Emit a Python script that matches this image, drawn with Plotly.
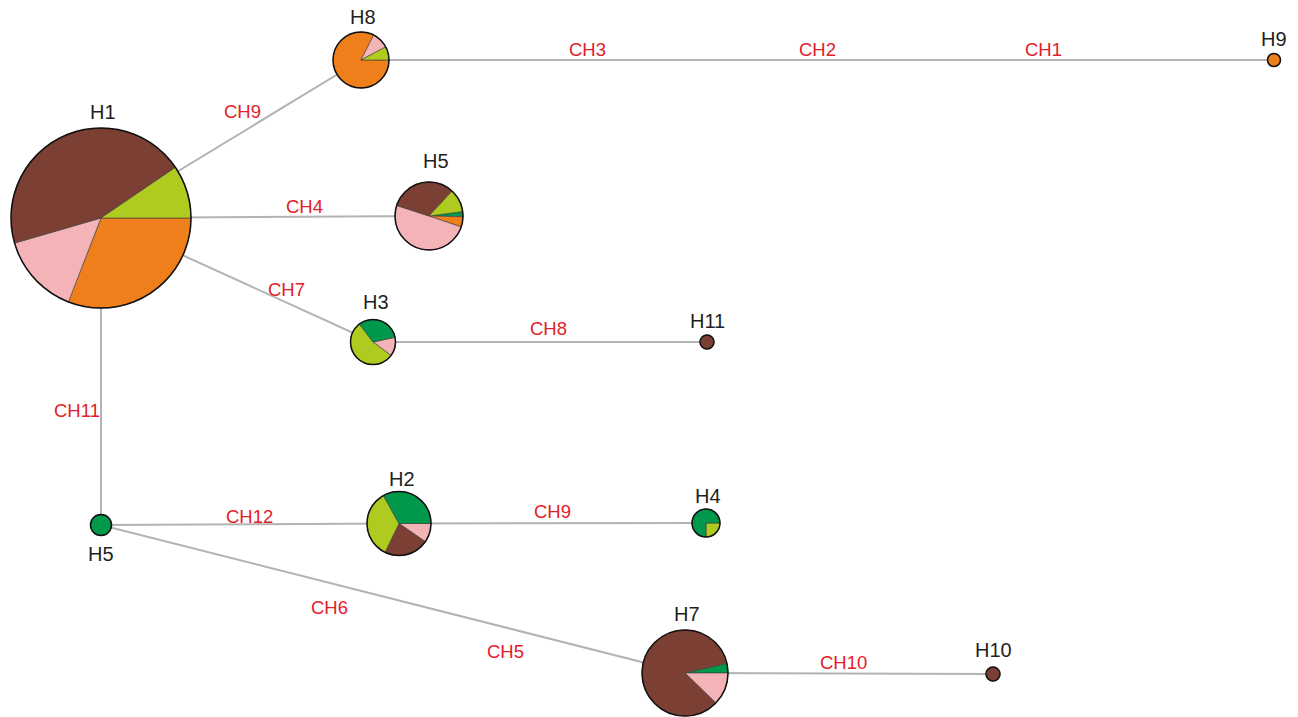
import plotly.graph_objects as go

W, H = 1298, 717

# ---------------- data ----------------
pop_colors = {
    "brown": "#7b3f34",
    "lime": "#b0cb1f",
    "orange": "#ef7f1a",
    "pink": "#f4b3b6",
    "green": "#00984a",
}

hap_labels = ["H1", "H8", "H9", "H5", "H3", "H11", "H5", "H2", "H4", "H7", "H10"]

# composition of each haplotype (% of individuals), slices listed clockwise
H1_pops = ["orange", "pink", "brown", "lime"]
H1_vals = [30.9, 14.6, 45.0, 9.5]
H8_pops = ["orange", "pink", "lime"]
H8_vals = [82.5, 9.7, 7.8]
H9_pops = ["orange"]
H9_vals = [100]
H5a_pops = ["green", "orange", "pink", "brown", "lime"]
H5a_vals = [2.4, 4.9, 49.8, 31.9, 11.0]
H3_pops = ["pink", "lime", "green"]
H3_vals = [13.6, 54.4, 32.0]
H11_pops = ["brown"]
H11_vals = [100]
H5b_pops = ["green"]
H5b_vals = [100]
H2_pops = ["pink", "brown", "lime", "green"]
H2_vals = [9.6, 22.6, 34.7, 33.1]
H4_pops = ["lime", "green"]
H4_vals = [25, 75]
H7_pops = ["green", "pink", "brown"]
H7_vals = [3.6, 12.3, 84.1]
H10_pops = ["brown"]
H10_vals = [100]

hap_pops = [H1_pops, H8_pops, H9_pops, H5a_pops, H3_pops, H11_pops,
            H5b_pops, H2_pops, H4_pops, H7_pops, H10_pops]
hap_vals = [H1_vals, H8_vals, H9_vals, H5a_vals, H3_vals, H11_vals,
            H5b_vals, H2_vals, H4_vals, H7_vals, H10_vals]

# network edges (node index pairs) and mutation labels
edge_from = [0, 1, 0, 0, 4, 0, 6, 7, 6, 9]
edge_to = [1, 2, 3, 4, 5, 6, 7, 8, 9, 10]

mut_labels = ["CH9", "CH3", "CH2", "CH1", "CH4", "CH7", "CH8", "CH11",
              "CH12", "CH9", "CH6", "CH5", "CH10"]

# ---------------- layout (pixel positions) ----------------
node_x = [101, 361, 1274, 429, 373, 707, 101, 399, 706, 685, 993]
node_y = [218, 60, 60, 216, 342, 342, 525, 523.5, 523, 673, 674]
node_r = [90, 28, 6.5, 34, 22.5, 7, 10.5, 32, 14, 43, 7]
node_rot = [90, 90, 90, 82.5, 78, 90, 90, 90, 90, 77, 90]
label_pos = [(103, 112), (363, 17), (1274, 39), (436, 161), (376, 302),
             (707, 321), (101, 554), (402, 479), (708, 496), (687, 614),
             (993, 650)]
mut_pos = [(242, 111), (587, 49), (817, 49), (1043, 49), (304, 206),
           (286, 289), (548, 328), (77, 410), (249, 516), (552, 511),
           (329, 607), (505, 651), (843, 662)]

fig = go.Figure()

# edges
for a, b in zip(edge_from, edge_to):
    fig.add_trace(go.Scatter(
        x=[node_x[a], node_x[b]], y=[node_y[a], node_y[b]],
        mode="lines", line=dict(color="#b3b3b3", width=2),
        hoverinfo="skip", showlegend=False))

# pies
shapes = []
for i, lab in enumerate(hap_labels):
    cx, cy, r = node_x[i], node_y[i], node_r[i]
    fig.add_trace(go.Pie(
        labels=[f"{lab}-{p}" for p in hap_pops[i]],
        values=hap_vals[i],
        sort=False, direction="clockwise", rotation=node_rot[i],
        textinfo="none", hoverinfo="label+value",
        marker=dict(colors=[pop_colors[p] for p in hap_pops[i]],
                    line=dict(color="#3a3a3a", width=0.6)),
        domain=dict(x=[(cx - r) / W, (cx + r) / W],
                    y=[1 - (cy + r) / H, 1 - (cy - r) / H]),
        showlegend=False))
    shapes.append(dict(type="circle", xref="x", yref="y",
                       x0=cx - r, x1=cx + r, y0=cy - r, y1=cy + r,
                       line=dict(color="#111111", width=1.5), layer="above"))

annotations = []
for i, lab in enumerate(hap_labels):
    annotations.append(dict(x=label_pos[i][0], y=label_pos[i][1], text=lab,
                            xref="x", yref="y", showarrow=False,
                            font=dict(family="Liberation Sans, Arial", size=20, color="#231f20")))
for t, (x, y) in zip(mut_labels, mut_pos):
    annotations.append(dict(x=x, y=y, text=t, xref="x", yref="y", showarrow=False,
                            font=dict(family="Liberation Sans, Arial", size=18.5, color="#e3202a")))

fig.update_layout(
    width=W, height=H, margin=dict(l=0, r=0, t=0, b=0),
    paper_bgcolor="white", plot_bgcolor="white",
    xaxis=dict(range=[0, W], visible=False, fixedrange=True),
    yaxis=dict(range=[H, 0], visible=False, fixedrange=True),
    shapes=shapes, annotations=annotations, showlegend=False,
)

fig.write_html(
    "out.html",
    config={"displayModeBar": False},
    post_script="document.body.style.margin='0';document.body.style.overflow='hidden';",
)
